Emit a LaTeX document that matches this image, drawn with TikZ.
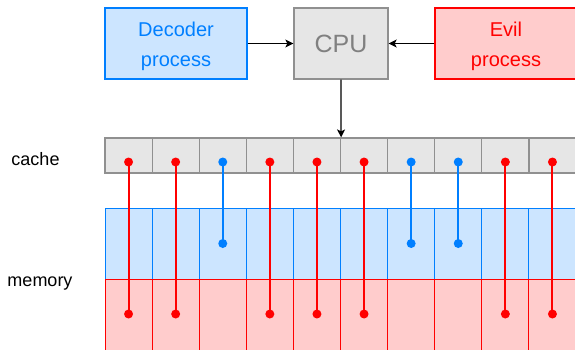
\documentclass[tikz,border=0pt]{standalone}
\usepackage{fontspec}
\setmainfont{Liberation Sans}
\usetikzlibrary{arrows.meta}
\definecolor{bfill}{HTML}{CCE5FF}
\definecolor{bline}{HTML}{007FFF}
\definecolor{rfill}{HTML}{FFCCCC}
\definecolor{rline}{HTML}{FF0000}
\definecolor{gfill}{HTML}{E6E6E6}
\definecolor{gline}{HTML}{909090}
\definecolor{gtext}{HTML}{808080}
\tikzset{
  procbox/.style={draw, line width=1.3pt, minimum width=142pt, minimum height=71pt, inner sep=0pt},
  boxtext/.style={align=center, yshift=-3pt, font=\fontsize{20}{29.5}\selectfont},
  cachecell/.style={draw=gline, fill=gfill, line width=1.2pt, minimum width=47.1pt, minimum height=35pt, inner sep=0pt},
  bluecell/.style={draw=bline, fill=bfill, line width=1pt, minimum width=47.1pt, minimum height=71pt, inner sep=0pt},
  redcell/.style={draw=rline, fill=rfill, line width=1pt, minimum width=47.1pt, minimum height=71pt, inner sep=0pt},
  dot/.style={circle, inner sep=0pt, minimum size=9pt},
  rdot/.style={dot, fill=rline},
  bdot/.style={dot, fill=bline},
  rlink/.style={draw=rline, line width=2pt},
  blink/.style={draw=bline, line width=2pt},
  flow/.style={draw=black, line width=1.2pt, -{Stealth[length=8pt,width=8pt,inset=2pt]}},
  lbl/.style={font=\fontsize{18}{21}\selectfont}
}
\begin{document}
\begin{tikzpicture}[x=1pt,y=-1pt]
\useasboundingbox (0,0) rectangle (575,349);
\clip (0,0) rectangle (575,349);
% memory rows
\foreach \i in {0,...,9} {
  \node[bluecell] (b\i) at ({128.55+47.1*\i},243.5) {};
}
\foreach \i in {0,...,9} {
  \node[redcell] (r\i) at ({128.55+47.1*\i},314.5) {};
}
% cache row
\foreach \i in {0,...,9} {
  \node[cachecell] (c\i) at ({128.55+47.1*\i},155.5) {};
}
% top boxes
\node[procbox, fill=bfill, draw=bline, label={[boxtext, text=bline]center:{Decoder\\process}}] (dec) at (176,43.5) {};
\node[procbox, fill=gfill, draw=gline, text=gtext, minimum width=94pt, font=\fontsize{25}{30}\selectfont] (cpu) at (341,43.5) {CPU};
\node[procbox, fill=rfill, draw=rline, label={[boxtext, text=rline]center:{Evil\\process}}] (evil) at (506,43.5) {};
\draw[flow] (dec) -- (cpu);
\draw[flow] (evil) -- (cpu);
\draw[flow] (cpu.south) -- (c4.north east);
% labels
\node[lbl] (lc) at (35.5,159) {cache};
\node[lbl] (lm) at (40,284) {memory};
% dots and links
\foreach \i in {0,1,3,4,5,8,9} {
  \node[rdot] (cd\i) at ({128.55+47.1*\i},162) {};
  \node[rdot] (md\i) at ({128.55+47.1*\i},314) {};
  \draw[rlink] (cd\i.center) -- (md\i.center);
}
\foreach \i in {2,6,7} {
  \node[bdot] (cd\i) at ({128.55+47.1*\i},162) {};
  \node[bdot] (md\i) at ({128.55+47.1*\i},243.5) {};
  \draw[blink] (cd\i.center) -- (md\i.center);
}
\end{tikzpicture}
\end{document}
